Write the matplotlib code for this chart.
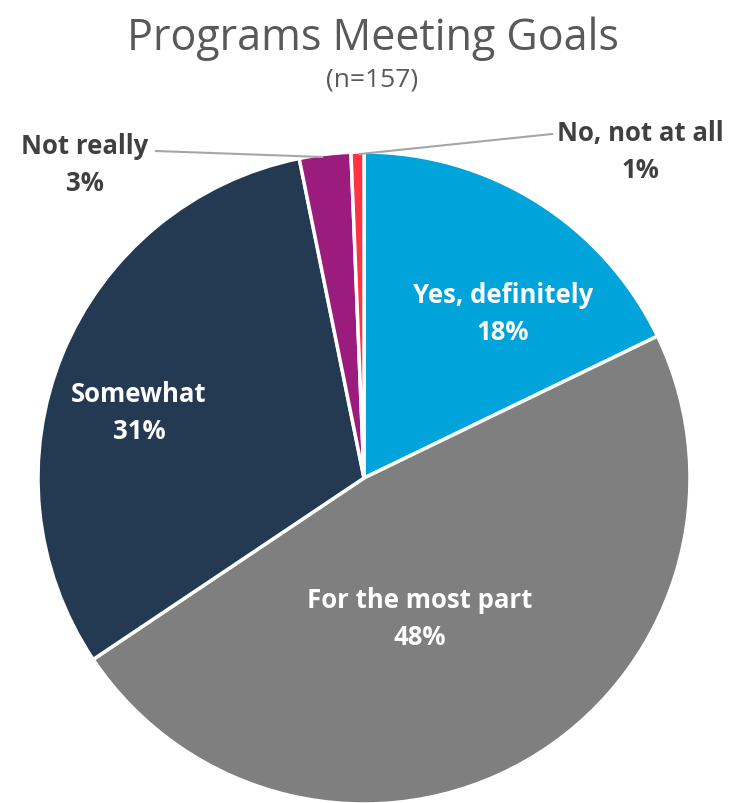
import numpy as np
import matplotlib
matplotlib.use('Agg')
import matplotlib.pyplot as plt

# Response counts (n=157)
categories = ['Yes, definitely', 'For the most part', 'Somewhat', 'Not really', 'No, not at all']
counts = [28, 75, 49, 4, 1]
colors = ['#00A3DA', '#7F7F7F', '#243A53', '#9B1C7D', '#FF3344']

total = sum(counts)
pct = [round(100 * c / total) for c in counts]

fig = plt.figure(figsize=(7.33, 8.04), dpi=100)
ax = fig.add_axes([0, 0, 1, 1])

cx, cy, r = 364, 804 - 479, 326
ax.pie(counts, colors=colors, startangle=90, counterclock=False,
       center=(cx, cy), radius=r, frame=True,
       wedgeprops=dict(edgecolor='white', linewidth=2.5))
ax.set_xlim(0, 733)
ax.set_ylim(0, 804)
ax.axis('off')

lab_font = dict(fontfamily='Open Sans', fontweight='bold', fontsize=18.5)

# inside labels (label, pct) positions in pixel coords from top
inside = {0: (503, 314, 'white'), 1: (420, 619, 'white'), 2: (139, 413, 'white')}
for i, (x, y, c) in inside.items():
    ax.text(x, 804 - y, f'{categories[i]}\n{pct[i]}%', ha='center', va='center',
            color=c, linespacing=1.5, **lab_font)

# outside labels with leader lines
ax.text(85, 804 - 165, f'{categories[3]}\n{pct[3]}%', ha='center', va='center',
        color='#404040', linespacing=1.5, **lab_font)
ax.plot([156, 322], [804 - 152, 804 - 158], color='#A6A6A6', lw=1.5)
ax.text(640, 804 - 152, f'{categories[4]}\n{pct[4]}%', ha='center', va='center',
        color='#404040', linespacing=1.5, **lab_font)
ax.plot([552, 360], [804 - 135, 804 - 155], color='#A6A6A6', lw=1.5)

fig.text(373 / 733, 1 - 39 / 804, 'Programs Meeting Goals', ha='center', va='center',
         fontfamily='Open Sans', fontsize=31, color='#595959')
fig.text(372 / 733, 1 - 80 / 804, '(n=157)', ha='center', va='center',
         fontfamily='Open Sans', fontsize=19, color='#595959')

fig.savefig('out.png', dpi=100)
